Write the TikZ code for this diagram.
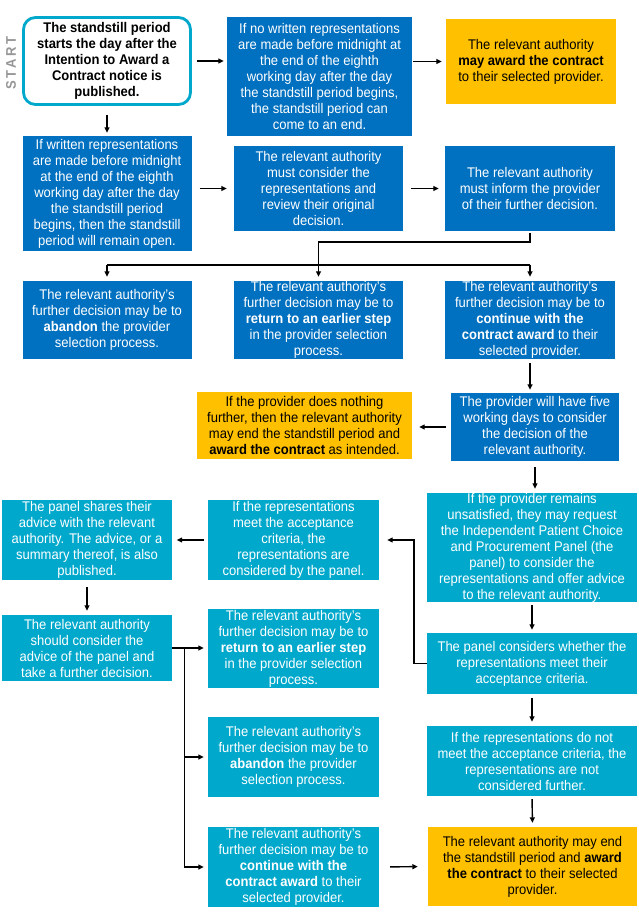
\documentclass[tikz,border=0pt]{standalone}
\usepackage{fontspec}
\setmainfont{Liberation Sans}[FakeStretch=0.93]
\usepackage{xcolor}
\usetikzlibrary{arrows.meta,calc}
\definecolor{dkblue}{RGB}{0,112,192}
\definecolor{ltblue}{RGB}{0,168,204}
\definecolor{amber}{RGB}{255,192,0}
\definecolor{startgray}{RGB}{150,150,150}

\begin{document}
\begin{tikzpicture}[x=1pt,y=-1pt,
    box/.style={align=center,inner sep=0pt,font=\fontsize{14}{16}\selectfont},
    boxsize/.style 2 args={minimum width=#1pt,minimum height=#2pt},
    darkbox/.style={box,fill=dkblue,text=white},
    lightbox/.style={box,fill=ltblue,text=white},
    amberbox/.style={box,fill=amber,text=black},
    startbox/.style={box,draw=ltblue,line width=2.8pt,rounded corners=12pt,fill=white,font=\bfseries\fontsize{14}{16}\selectfont},
    line/.style={line width=1.4pt},
    arr/.style={line,-{Triangle[length=5.5pt,width=5pt]},shorten <=4pt,shorten >=4pt}]
    \useasboundingbox (0,0) rectangle (639,912);
    \node[rotate=90,text=startgray,font=\bfseries\fontsize{14}{14}\selectfont] (startlabel) at (11,63) {S\,T\,A\,R\,T};
    \node[startbox,boxsize={167}{87}] (start) at (107,61) {The standstill period\\starts the day after the\\Intention to Award a\\Contract notice is\\published.};
    \node[darkbox,boxsize={185}{119}] (nowrit) at (319.5,76.5) {If no written representations\\are made before midnight at\\the end of the eighth\\working day after the day\\the standstill period begins,\\the standstill period can\\come to an end.};
    \node[amberbox,boxsize={170}{85}] (award) at (531,61.5) {The relevant authority\\\textbf{may award the contract}\\to their selected provider.};
    \node[darkbox,boxsize={169}{115}] (writ) at (107,193.5) {If written representations\\are made before midnight\\at the end of the eighth\\working day after the day\\the standstill period\\begins, then the standstill\\period will remain open.};
    \node[darkbox,boxsize={169}{85}] (consider) at (318.5,188.5) {The relevant authority\\must consider the\\representations and\\review their original\\decision.};
    \node[darkbox,boxsize={170}{85}] (inform) at (530,188.5) {The relevant authority\\must inform the provider\\of their further decision.};
    \node[darkbox,boxsize={169}{78}] (abandon) at (107,320) {The relevant authority’s\\further decision may be to\\\textbf{abandon} the provider\\selection process.};
    \node[darkbox,boxsize={169}{78}] (ret) at (318.5,320) {The relevant authority’s\\further decision may be to\\\textbf{return to an earlier step}\\in the provider selection\\process.};
    \node[darkbox,boxsize={170}{78}] (cont) at (530,320) {The relevant authority’s\\further decision may be to\\\textbf{continue with the}\\\textbf{contract award} to their\\selected provider.};
    \node[darkbox,boxsize={168}{68}] (five) at (535,427) {The provider will have five\\working days to consider\\the decision of the\\relevant authority.};
    \node[amberbox,boxsize={215}{67}] (nothing) at (304.5,425.5) {If the provider does nothing\\further, then the relevant authority\\may end the standstill period and\\\textbf{award the contract} as intended.};
    \node[lightbox,boxsize={210}{109}] (unsat) at (532,547.5) {If the provider remains\\unsatisfied, they may request\\the Independent Patient Choice\\and Procurement Panel (the\\panel) to consider the\\representations and offer advice\\to the relevant authority.};
    \node[lightbox,boxsize={171}{80}] (meet) at (293.5,540) {If the representations\\meet the acceptance\\criteria, the\\representations are\\considered by the panel.};
    \node[lightbox,boxsize={170}{80}] (shares) at (87,540) {The panel shares their\\advice with the relevant\\authority. The advice, or a\\summary thereof, is also\\published.};
    \node[lightbox,boxsize={170}{66}] (should) at (87,648) {The relevant authority\\should consider the\\advice of the panel and\\take a further decision.};
    \node[lightbox,boxsize={171}{79}] (ret2) at (293.5,648.5) {The relevant authority’s\\further decision may be to\\\textbf{return to an earlier step}\\in the provider selection\\process.};
    \node[lightbox,boxsize={210}{61}] (panel) at (532,663.5) {The panel considers whether the\\representations meet their\\acceptance criteria.};
    \node[lightbox,boxsize={171}{80}] (aband2) at (293.5,757) {The relevant authority’s\\further decision may be to\\\textbf{abandon} the provider\\selection process.};
    \node[lightbox,boxsize={210}{70}] (notmeet) at (532,761) {If the representations do not\\meet the acceptance criteria, the\\representations are not\\considered further.};
    \node[lightbox,boxsize={171}{80}] (cont2) at (293.5,867) {The relevant authority’s\\further decision may be to\\\textbf{continue with the}\\\textbf{contract award} to their\\selected provider.};
    \node[amberbox,boxsize={209}{79}] (final) at (532.5,866.5) {The relevant authority may end\\the standstill period and \textbf{award}\\\textbf{the contract} to their selected\\provider.};
    \draw[arr,shorten <=5.5pt,shorten >=3pt] (start.east) -- (start.east -| nowrit.west);
    \draw[arr,shorten <=1pt] (nowrit.east |- award.west) -- (award.west);
    \draw[arr,shorten <=9pt,shorten >=3pt] (start.south) -- (writ.north);
    \draw[arr,shorten <=8pt,shorten >=7pt] (consider.west -| writ.east) -- (consider.west);
    \draw[arr,shorten <=8pt,shorten >=6pt] (consider.east) -- (inform.west);
    \coordinate (hub) at ($(ret.north)+(0,-16)$);
    \draw[line] (inform.south) ++(0,2) |- ($(hub)+(0,-23)$) -- (hub);
    \draw[line] (hub -| abandon.north) -- (hub -| cont.north);
    \foreach \n in {abandon,ret,cont}
        \draw[arr,shorten <=0pt] (hub -| \n.north) -- (\n.north);
    \draw[arr,shorten >=3pt] (cont.south) -- (cont.south |- five.north);
    \draw[arr,shorten <=5pt,shorten >=7pt] (five.west) -- (five.west -| nothing.east);
    \draw[arr,shorten <=6pt] (five.south) -- (five.south |- unsat.north);
    \draw[arr,shorten <=3pt,shorten >=3pt] (unsat.south) -- (panel.north);
    \draw[arr,shorten <=0pt,shorten >=8pt] (panel.west) -- ++(-13,0) |- (meet.east);
    \draw[arr,shorten >=4.5pt] (meet.west) -- (meet.west -| shares.east);
    \draw[arr,shorten <=7pt] (shares.south) -- (should.north);
    \coordinate (fork) at ($(should.east)+(12,0)$);
    \draw[arr,shorten <=0pt] (should.east) -- (should.east -| ret2.west);
    \foreach \n in {aband2,cont2}
        \draw[arr,shorten <=0pt] (fork) |- (\n.west);
    \draw[arr] (panel.south) -- (notmeet.north);
    \draw[arr,shorten <=3pt] (notmeet.south) -- (final.north);
    \draw[arr,shorten <=11pt,shorten >=10pt] (cont2.east) -- (final.west);
\end{tikzpicture}
\end{document}
